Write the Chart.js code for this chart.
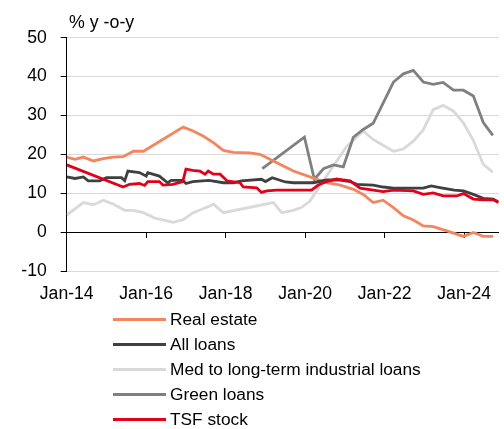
<!DOCTYPE html>
<html>
<head>
<meta charset="utf-8">
<script src="https://cdn.jsdelivr.net/npm/chart.js@4"></script>
<style>
    html, body { margin: 0; padding: 0; background: #fff; }
    #wrap { position: relative; width: 504px; height: 429px; font-family: "Liberation Sans", Arial, sans-serif; color: #000; }
    #title { position: absolute; left: 69px; top: 12px; font-size: 17.8px; line-height: 20px; white-space: pre; }
    #legend { position: absolute; left: 113px; top: 306.5px; }
    .item { display: flex; align-items: center; height: 25.1px; font-size: 17.3px; white-space: nowrap; }
    .swatch { width: 53px; height: 3px; margin-right: 4px; }
</style>
</head>
<body>
<div id="wrap">
    <canvas id="chart" width="504" height="429"></canvas>
    <div id="title">% y -o-y</div>
    <div id="legend"></div>
</div>
<script>
// Dữ liệu (năm thập phân, % so với cùng kỳ)
const seriesNames = ['Real estate', 'All loans', 'Med to long-term industrial loans', 'Green loans', 'TSF stock'];
const seriesColors = ['#F3865F', '#404040', '#D9D9D9', '#808080', '#E2001A'];

const realEstate = [
    [2014.00, 19.3], [2014.21, 18.7], [2014.42, 19.3], [2014.67, 18.3], [2014.92, 18.9],
    [2015.17, 19.3], [2015.42, 19.4], [2015.68, 20.8], [2015.93, 20.8], [2016.93, 27.0],
    [2017.18, 26.0], [2017.43, 24.7], [2017.69, 23.0], [2017.94, 21.0], [2018.19, 20.5],
    [2018.61, 20.4], [2018.86, 20.0], [2019.20, 18.3], [2019.45, 17.0], [2019.70, 15.7],
    [2020.12, 14.2], [2020.54, 12.7], [2020.88, 12.1], [2021.21, 11.0], [2021.46, 9.7],
    [2021.71, 7.6], [2021.96, 8.2], [2022.22, 6.3], [2022.47, 4.2], [2022.72, 3.1],
    [2022.97, 1.6], [2023.22, 1.4], [2023.56, 0.3], [2023.98, -1.1], [2024.23, -0.1],
    [2024.48, -1.1], [2024.73, -1.1]
];

const allLoans = [
    [2014.00, 14.2], [2014.21, 13.8], [2014.42, 14.2], [2014.54, 13.2], [2014.83, 13.2],
    [2015.00, 14.0], [2015.38, 14.0], [2015.46, 13.2], [2015.54, 15.7], [2015.83, 15.3],
    [2016.00, 14.4], [2016.04, 15.3], [2016.33, 14.4], [2016.54, 12.7], [2016.63, 13.3],
    [2016.92, 13.3], [2017.00, 12.5], [2017.17, 13.0], [2017.58, 13.3], [2017.94, 12.7],
    [2018.20, 12.7], [2018.40, 13.2], [2018.90, 13.6], [2019.00, 13.0], [2019.17, 14.0],
    [2019.50, 12.9], [2019.70, 12.7], [2020.20, 12.7], [2020.54, 13.4], [2020.88, 13.4],
    [2021.13, 13.0], [2021.30, 12.3], [2021.71, 12.1], [2021.96, 11.6], [2022.22, 11.3],
    [2022.97, 11.3], [2023.17, 11.9], [2023.42, 11.4], [2023.75, 10.8], [2023.98, 10.6],
    [2024.23, 9.7], [2024.48, 8.7], [2024.73, 8.5], [2024.85, 7.8]
];

const medLongIndustrial = [
    [2014.00, 4.4], [2014.42, 7.6], [2014.67, 7.0], [2014.92, 8.2], [2015.17, 7.2],
    [2015.46, 5.6], [2015.67, 5.6], [2015.93, 5.0], [2016.22, 3.6], [2016.68, 2.5],
    [2016.93, 3.2], [2017.18, 5.0], [2017.60, 6.7], [2017.69, 7.2], [2017.94, 5.0],
    [2019.20, 7.6], [2019.41, 5.0], [2019.70, 5.6], [2019.90, 6.3], [2020.12, 8.0],
    [2020.37, 11.9], [2020.71, 17.0], [2021.04, 22.0], [2021.46, 26.0], [2021.71, 23.8],
    [2022.22, 20.8], [2022.47, 21.4], [2022.72, 23.4], [2022.97, 26.3], [2023.22, 31.5],
    [2023.47, 32.6], [2023.73, 31.1], [2023.98, 28.1], [2024.23, 23.6], [2024.48, 17.4],
    [2024.72, 15.4]
];

const greenLoans = [
    [2018.92, 16.3], [2019.98, 24.4], [2020.23, 13.6], [2020.46, 16.3], [2020.71, 17.3],
    [2020.96, 16.8], [2021.21, 24.4], [2021.46, 26.4], [2021.71, 28.0], [2021.96, 33.2],
    [2022.22, 38.6], [2022.47, 40.7], [2022.72, 41.6], [2022.97, 38.6], [2023.22, 38.0],
    [2023.47, 38.5], [2023.73, 36.5], [2023.98, 36.5], [2024.23, 35.0], [2024.48, 28.2],
    [2024.72, 24.9]
];

const tsfStock = [
    [2014.00, 17.3], [2015.42, 11.6], [2015.58, 12.3], [2015.83, 12.5], [2015.96, 12.0],
    [2016.04, 13.0], [2016.33, 13.0], [2016.42, 12.1], [2016.67, 12.3], [2016.92, 13.0],
    [2017.00, 16.2], [2017.17, 15.9], [2017.35, 15.7], [2017.48, 14.9], [2017.56, 15.7],
    [2017.69, 14.9], [2017.86, 14.9], [2018.03, 13.2], [2018.36, 12.7], [2018.44, 11.6],
    [2018.78, 11.4], [2018.90, 10.2], [2019.03, 10.6], [2019.28, 10.8], [2020.16, 10.8],
    [2020.33, 12.1], [2020.54, 13.0], [2020.79, 13.7], [2020.96, 13.4], [2021.13, 13.2],
    [2021.38, 11.3], [2021.71, 10.8], [2021.96, 10.4], [2022.22, 10.8], [2022.72, 10.6],
    [2022.97, 9.7], [2023.22, 10.1], [2023.47, 9.3], [2023.81, 9.3], [2023.98, 9.9],
    [2024.23, 8.5], [2024.48, 8.3], [2024.73, 8.3], [2024.86, 7.6]
];

const xTickValues = [2014, 2016, 2018, 2020, 2022, 2024];
const xTickLabels = ['Jan-14', 'Jan-16', 'Jan-18', 'Jan-20', 'Jan-22', 'Jan-24'];
const xMin = 2014;
const xMax = 2024.875;
const yTicks = [-10, 0, 10, 20, 30, 40, 50];

const allSeries = [realEstate, allLoans, medLongIndustrial, greenLoans, tsfStock];
// thứ tự vẽ: số lớn vẽ trước (nằm dưới)
const drawOrder = [2, 1, 4, 3, 0];

const FONT = { family: '"Liberation Sans", Arial, sans-serif', size: 17.6 };

function setXTicks(scale) {
    scale.ticks = xTickValues.map(v => ({ value: v }));
}

const chart = new Chart(document.getElementById('chart'), {
    type: 'line',
    data: {
        datasets: allSeries.map((s, i) => ({
            label: seriesNames[i],
            data: s.map(p => ({ x: p[0], y: p[1] })),
            borderColor: seriesColors[i],
            backgroundColor: seriesColors[i],
            borderWidth: 2.8,
            pointRadius: 0,
            tension: 0,
            order: drawOrder[i]
        }))
    },
    options: {
        responsive: false,
        animation: false,
        layout: { padding: { left: 22, right: 5, top: 37.7, bottom: 128 } },
        plugins: { legend: { display: false }, tooltip: { enabled: false } },
        scales: {
            x: {
                type: 'linear',
                position: { y: 0 },
                min: xMin,
                max: xMax,
                afterBuildTicks: setXTicks,
                ticks: { display: false },
                grid: { drawOnChartArea: false, drawTicks: true, tickLength: 6, tickColor: '#000' },
                border: { display: false }
            },
            x2: {
                type: 'linear',
                position: 'bottom',
                min: xMin,
                max: xMax,
                afterBuildTicks: setXTicks,
                afterFit: s => { s.height = 30; s.paddingLeft = 0; s.paddingRight = 0; },
                ticks: {
                    font: FONT, color: '#000', padding: 13, maxRotation: 0,
                    callback: v => xTickLabels[xTickValues.indexOf(v)]
                },
                grid: { display: false, drawTicks: false },
                border: { display: false }
            },
            y: {
                min: -10,
                max: 50,
                afterBuildTicks: s => { s.ticks = yTicks.map(v => ({ value: v })); },
                afterFit: s => { s.width = 44.7; s.paddingTop = 0; s.paddingBottom = 0; },
                ticks: { font: FONT, color: '#000', padding: 14 },
                grid: {
                    color: c => (c.tick && c.tick.value === 0) ? '#000' : '#D9D9D9',
                    tickColor: '#000',
                    tickLength: 6,
                    lineWidth: 1
                },
                border: { display: true, color: '#000', width: 1 }
            }
        }
    }
});

// Chú giải dạng danh sách dọc
const legendEl = document.getElementById('legend');
chart.data.datasets.forEach(ds => {
    const row = document.createElement('div');
    row.className = 'item';
    const sw = document.createElement('span');
    sw.className = 'swatch';
    sw.style.background = ds.borderColor;
    const txt = document.createElement('span');
    txt.textContent = ds.label;
    row.appendChild(sw);
    row.appendChild(txt);
    legendEl.appendChild(row);
});
</script>
</body>
</html>
